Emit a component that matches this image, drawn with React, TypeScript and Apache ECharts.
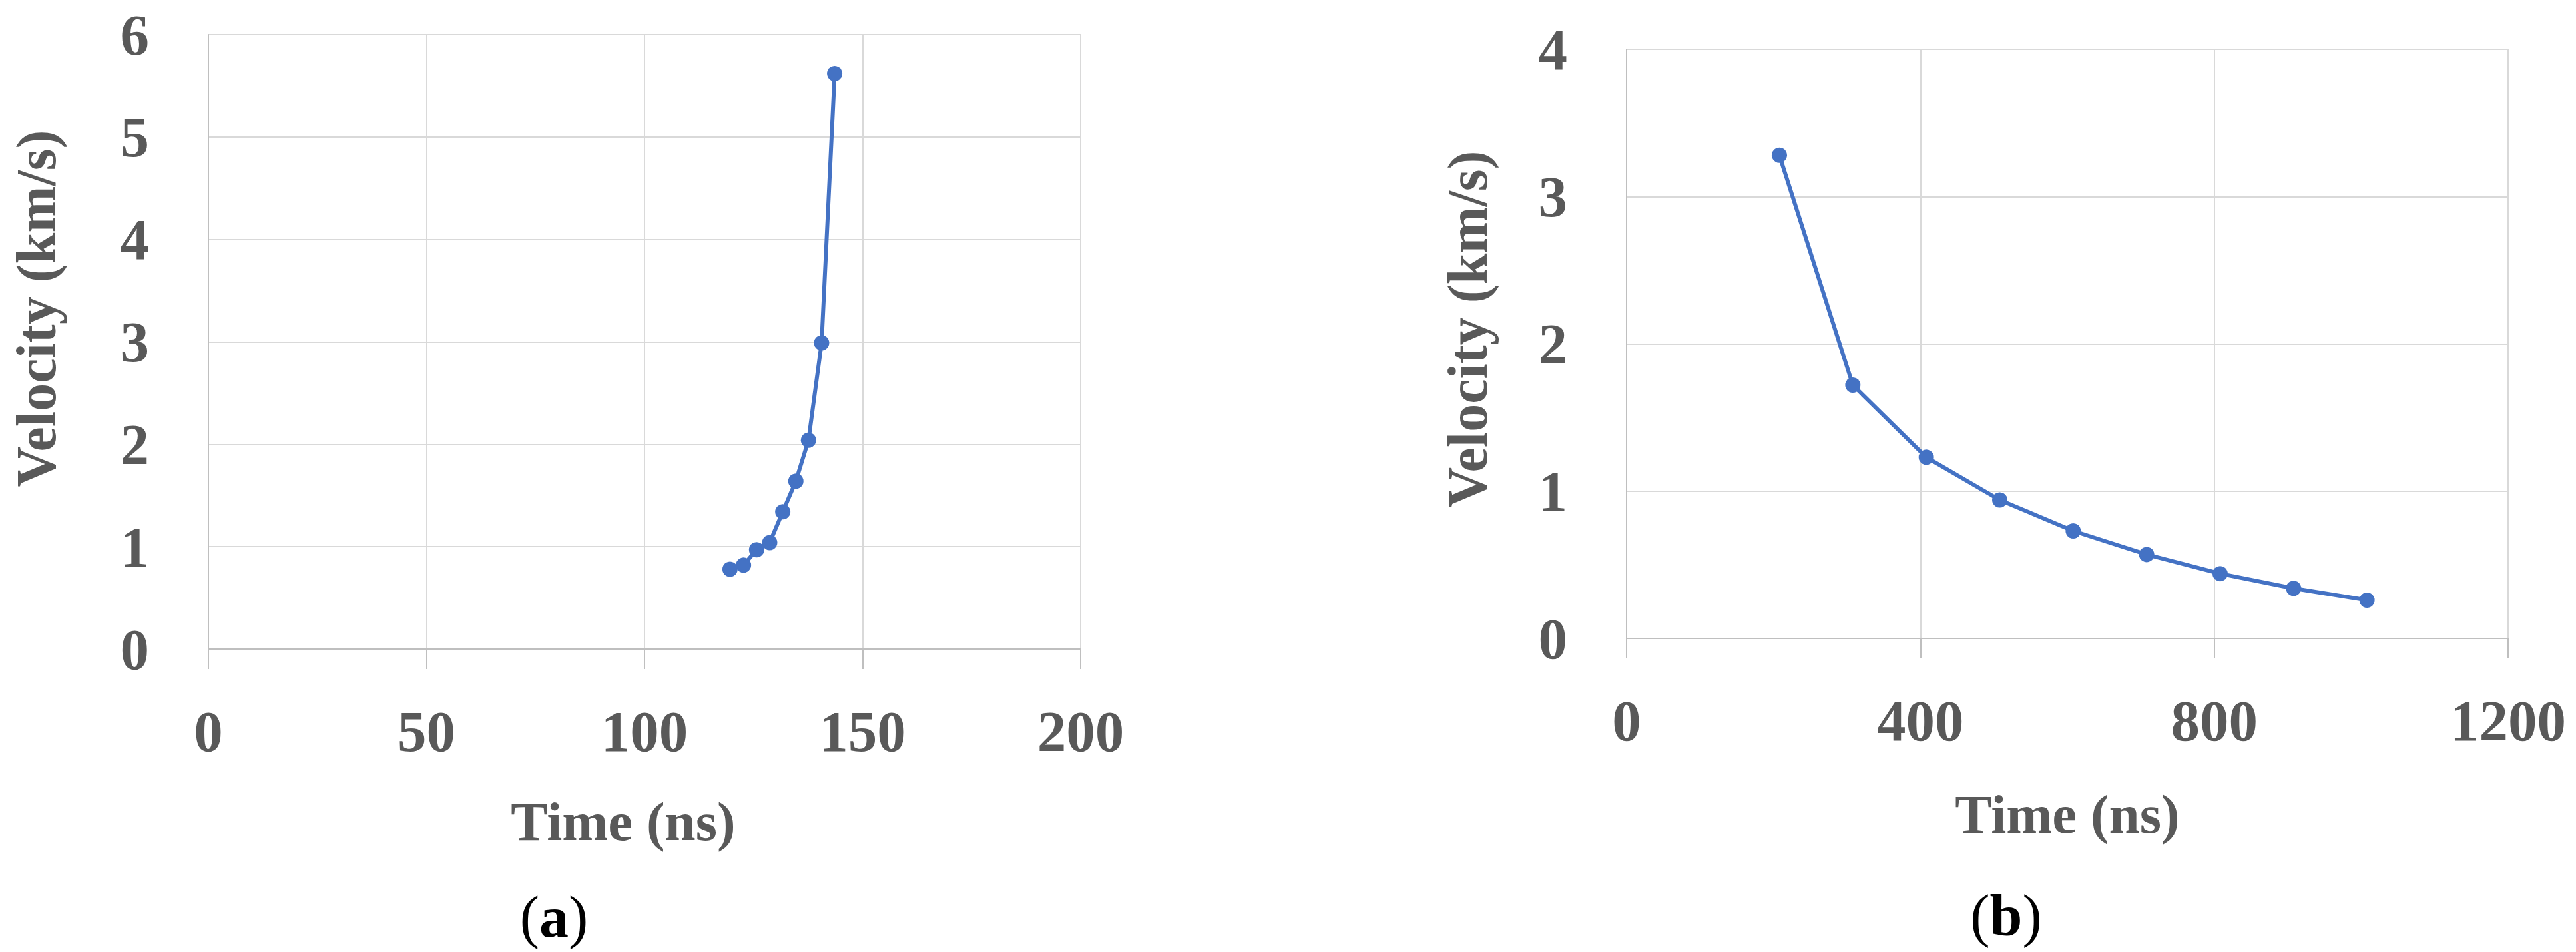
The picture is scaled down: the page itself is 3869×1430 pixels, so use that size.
import React, { useEffect, useRef } from 'react';
import * as echarts from 'echarts';

// Panel (a)
const timeA = [119.6, 122.7, 125.7, 128.7, 131.7, 134.7, 137.6, 140.6, 143.6];
const velocityA = [0.78, 0.82, 0.97, 1.04, 1.34, 1.64, 2.04, 2.99, 5.62];
// Panel (b)
const timeB = [208, 308, 408, 508, 608, 708, 808, 908, 1008];
const velocityB = [3.28, 1.72, 1.23, 0.94, 0.73, 0.57, 0.44, 0.34, 0.26];

const xTitle = 'Time (ns)';
const yTitle = 'Velocity (km/s)';
const panelLabels = ['a', 'b'];

const FONT = '"Liberation Serif", "Times New Roman", serif';
const TEXT = '#595959';
const GRID_LINE = '#d9d9d9';
const AXIS_LINE = '#bfbfbf';
const BLUE = '#4472C4';

function makeX(gridIndex: number, max: number, interval: number, namePad: number[], nameGap: number) {
  return {
    type: 'value',
    gridIndex,
    min: 0,
    max,
    interval,
    name: xTitle,
    nameLocation: 'middle',
    nameGap,
    nameTextStyle: {
      fontFamily: FONT,
      fontSize: 83,
      fontWeight: 'bold',
      color: TEXT,
      padding: namePad,
    },
    axisLine: { show: true, onZero: false, lineStyle: { color: AXIS_LINE, width: 2 } },
    axisTick: { show: true, inside: false, length: 30, lineStyle: { color: AXIS_LINE, width: 2 } },
    axisLabel: {
      margin: 80,
      fontFamily: FONT,
      fontSize: 87,
      fontWeight: 'bold',
      color: TEXT,
      showMinLabel: true,
      showMaxLabel: true,
      formatter: (v: number) => String(v),
    },
    splitLine: {
      show: true,
      showMinLine: true,
      showMaxLine: true,
      lineStyle: { color: GRID_LINE, width: 2 },
    },
  };
}

function makeY(gridIndex: number, max: number, namePad: number[], nameGap: number) {
  return {
    type: 'value',
    gridIndex,
    min: 0,
    max,
    interval: 1,
    name: yTitle,
    nameLocation: 'middle',
    nameGap,
    nameTextStyle: {
      fontFamily: FONT,
      fontSize: 84,
      lineHeight: 60,
      fontWeight: 'bold',
      color: TEXT,
      padding: namePad,
    },
    axisLine: { show: true, lineStyle: { color: AXIS_LINE, width: 2 } },
    axisTick: { show: false },
    axisLabel: {
      margin: 89,
      fontFamily: FONT,
      fontSize: 87,
      fontWeight: 'bold',
      color: TEXT,
      showMinLabel: true,
      showMaxLabel: true,
      formatter: (v: number) => String(v),
    },
    splitLine: {
      show: true,
      showMinLine: true,
      showMaxLine: true,
      lineStyle: { color: GRID_LINE, width: 2 },
    },
  };
}

function makeSeries(idx: number, xs: number[], ys: number[]) {
  return {
    type: 'line',
    xAxisIndex: idx,
    yAxisIndex: idx,
    data: xs.map((x, i) => [x, ys[i]]),
    symbol: 'circle',
    symbolSize: 23,
    showAllSymbol: true,
    lineStyle: { color: BLUE, width: 6 },
    itemStyle: { color: BLUE },
    silent: true,
    z: 5,
  };
}

function panelLabel(label: string, x: number, y: number) {
  return {
    type: 'text',
    x,
    y,
    style: {
      text: '({b|' + label + '})',
      fontFamily: FONT,
      fontSize: 88,
      fill: '#000000',
      align: 'center',
      verticalAlign: 'middle',
      rich: { b: { fontFamily: FONT, fontSize: 88, fontWeight: 'bold', fill: '#000000' } },
    },
  };
}

export default function App() {
  const ref = useRef<HTMLDivElement>(null);
  useEffect(() => {
    document.body.style.margin = '0';
    document.body.style.overflow = 'hidden';
    const chart = echarts.init(ref.current!, null, { renderer: 'svg' });
    const option: any = {
      animation: false,
      backgroundColor: '#ffffff',
      grid: [
        { left: 313, top: 52, width: 1310, height: 923, outerBoundsMode: 'none', containLabel: false },
        { left: 2443, top: 74, width: 1324, height: 885, outerBoundsMode: 'none', containLabel: false },
      ],
      xAxis: [
        makeX(0, 200, 50, [0, 64, 0, 0], 217),
        makeX(1, 1200, 400, [0, 0, 0, 0], 222),
      ],
      yAxis: [
        makeY(0, 6, [0, 0, 0, 100], 229),
        makeY(1, 4, [0, 0, 0, 44], 209),
      ],
      series: [makeSeries(0, timeA, velocityA), makeSeries(1, timeB, velocityB)],
      graphic: [panelLabel(panelLabels[0], 832, 1377), panelLabel(panelLabels[1], 3013, 1375)],
    };
    chart.setOption(option);
    return () => chart.dispose();
  }, []);
  return <div ref={ref} style={{ width: 3869, height: 1430 }} />;
}
